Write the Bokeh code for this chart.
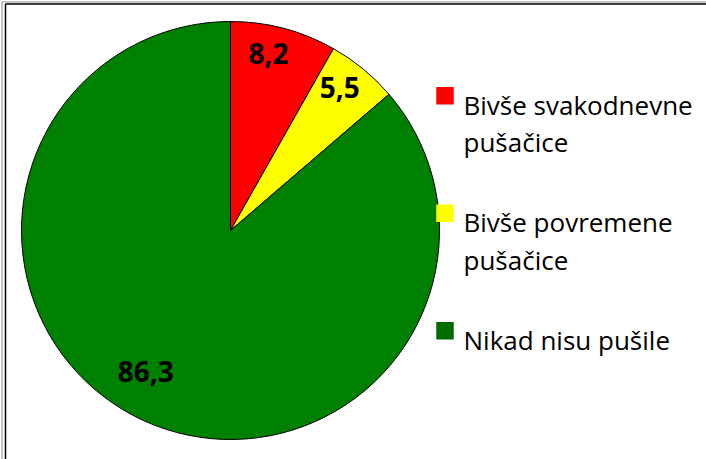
import math
from bokeh.plotting import figure
from bokeh.models import Range1d, ColumnDataSource
from bokeh.core.properties import value
from bokeh.embed import file_html
from bokeh.resources import INLINE

# ---- data ----
categories = ["Bivše svakodnevne pušačice", "Bivše povremene pušačice", "Nikad nisu pušile"]
legend_lines = [["Bivše svakodnevne", "pušačice"], ["Bivše povremene", "pušačice"], ["Nikad nisu pušile"]]
values = [8.2, 5.5, 86.3]
label_texts = ["8,2", "5,5", "86,3"]

# ---- style / layout ----
slice_colors = ["#FF0000", "#FFFF00", "#008000"]
key_colors = ["#FF0000", "#FFFF00", "#006C00"]
W, H = 706, 459
X0, Y0 = 0, 0  # page position of the figure's top-left corner
FONT = "Open Sans"

def Y(page_y):
    return -page_y

cx, cy, R = 230, Y(230), 209
label_r = [181, 180, 165]
label_nudge = [(-8, 2), (-5, 4), (-16, 9)]

p = figure(width=W, height=H, output_backend="svg", toolbar_location=None,
           x_range=Range1d(X0, X0 + W), y_range=Range1d(Y(Y0 + H), Y(Y0)),
           min_border=0, outline_line_color=None)
p.axis.visible = False
p.grid.visible = False
p.background_fill_color = "white"
p.border_fill_color = "white"

# chart-area frame (left and top edges visible)
p.segment(x0=[1.5, 1.5], y0=[Y(1.5), Y(1.5)], x1=[1.5, X0 + W], y1=[Y(Y0 + H), Y(1.5)],
          line_color="#B0B0B0", line_width=1.5)
p.segment(x0=[5, 5], y0=[Y(3.5), Y(3.5)], x1=[5, X0 + W], y1=[Y(Y0 + H), Y(3.5)],
          line_color="black", line_width=1.5)

# wedges, clockwise from 12 o'clock
total = sum(values)
starts, ends, mids = [], [], []
a = math.pi / 2
for v in values:
    span = 2 * math.pi * v / total
    starts.append(a)
    ends.append(a - span)
    mids.append(a - span / 2)
    a -= span

src = ColumnDataSource(dict(start=starts, end=ends, color=slice_colors, cat=categories))
p.wedge(x=cx, y=cy, radius=R, start_angle="start", end_angle="end", direction="clock",
        fill_color="color", line_color="black", line_width=1, source=src)

# data labels
lx = [cx + r * math.cos(m) + n[0] for r, m, n in zip(label_r, mids, label_nudge)]
ly = [cy + r * math.sin(m) + n[1] for r, m, n in zip(label_r, mids, label_nudge)]
p.text(x=lx, y=ly, text=label_texts, text_font=value(FONT), text_font_style="bold",
       text_font_size="28px", text_align="center", text_baseline="middle", text_color="black")

# legend
base0 = 104
step = 117.5
line_h = 37.5
key_x, key_size, text_x = 444.5, 17.5, 463
kx, ky, tx, ty, tt = [], [], [], [], []
for i, lines in enumerate(legend_lines):
    b = base0 + i * step
    kx.append(key_x)
    ky.append(Y(b - key_size / 2))
    for j, line in enumerate(lines):
        tx.append(text_x)
        ty.append(Y(b + j * line_h))
        tt.append(line)
p.rect(x=kx, y=ky, width=key_size, height=key_size, fill_color=key_colors, line_color=None)
p.text(x=tx, y=ty, text=tt, text_font=value(FONT), text_font_size="26px",
       text_align="left", text_baseline="alphabetic", text_color="black")

open("out.html", "w").write(file_html(p, INLINE))
